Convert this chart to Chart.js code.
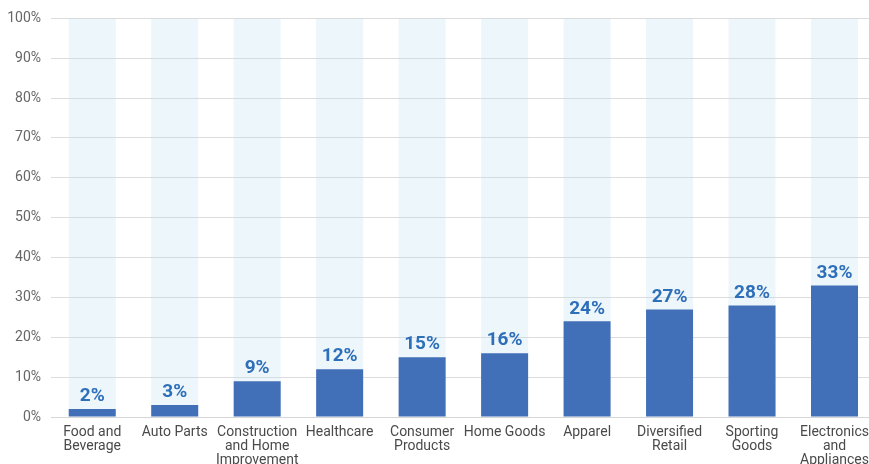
<!DOCTYPE html>
<html>
<head>
<meta charset="utf-8">
<script src="https://cdn.jsdelivr.net/npm/chart.js@4/dist/chart.umd.min.js"></script>
<style>
  html, body { margin: 0; padding: 0; background: #fff; overflow: hidden; }
  #wrap { width: 877px; height: 464px; }
</style>
</head>
<body>
<div id="wrap"><canvas id="chart"></canvas></div>
<script>
// category labels (multi-line as shown under the bars)
const categories = [
  ['Food and', 'Beverage'],
  'Auto Parts',
  ['Construction', 'and Home', 'Improvement'],
  'Healthcare',
  ['Consumer', 'Products'],
  'Home Goods',
  'Apparel',
  ['Diversified', 'Retail'],
  ['Sporting', 'Goods'],
  ['Electronics', 'and', 'Appliances']
];
const shares = [2, 3, 9, 12, 15, 16, 24, 27, 28, 33];
const fullColumn = [100, 100, 100, 100, 100, 100, 100, 100, 100, 100];
const yTicks = [0, 10, 20, 30, 40, 50, 60, 70, 80, 90, 100];

const FONT = 'Roboto, "DejaVu Sans", sans-serif';

// draws the bold % labels above each bar
const valueLabels = {
  id: 'valueLabels',
  afterDatasetsDraw(chart) {
    const ctx = chart.ctx;
    const meta = chart.getDatasetMeta(1);
    ctx.save();
    ctx.font = 'bold 19px ' + FONT;
    ctx.fillStyle = '#2e6fba';
    ctx.textAlign = 'center';
    ctx.textBaseline = 'bottom';
    meta.data.forEach((bar, i) => {
      ctx.fillText(shares[i] + '%', bar.x, bar.y - 3);
    });
    ctx.restore();
  }
};

new Chart(document.getElementById('chart'), {
  type: 'bar',
  data: {
    labels: categories,
    datasets: [
      {
        data: fullColumn,
        // see-through so the gridlines still show across the pale columns
        backgroundColor: 'rgba(190, 220, 240, 0.27)',
        barPercentage: 0.57,
        categoryPercentage: 1,
        grouped: false,
        order: 2
      },
      {
        data: shares,
        backgroundColor: '#4270b8',
        barPercentage: 0.57,
        categoryPercentage: 1,
        grouped: false,
        order: 1
      }
    ]
  },
  options: {
    responsive: true,
    maintainAspectRatio: false,
    animation: false,
    layout: { padding: { top: 18, left: 0, right: 0, bottom: 0 } },
    plugins: {
      legend: { display: false },
      tooltip: { enabled: false }
    },
    scales: {
      x: {
        grid: { display: false, drawTicks: false },
        border: { color: '#d6d6d6' },
        ticks: {
          color: '#4a4a4a',
          font: { family: FONT, size: 14, lineHeight: 1.0 },
          maxRotation: 0,
          autoSkip: false,
          padding: 8
        },
        afterFit(axis) { axis.height = 47; }
      },
      y: {
        min: 0,
        max: 100,
        afterBuildTicks(axis) { axis.ticks = yTicks.map(v => ({ value: v })); },
        grid: { color: '#dcdcdc', drawTicks: false },
        border: { display: false },
        ticks: {
          color: '#666',
          font: { family: FONT, size: 14 },
          padding: 10,
          callback: v => v + '%'
        },
        afterFit(axis) { axis.width = 51; }
      }
    }
  },
  plugins: [valueLabels]
});
</script>
</body>
</html>
